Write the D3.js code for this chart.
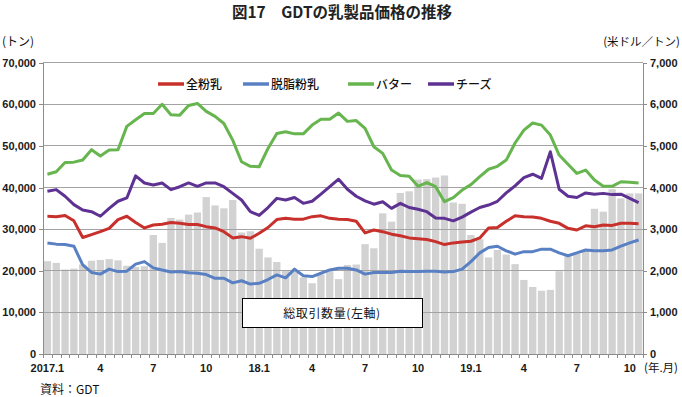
<!DOCTYPE html>
<html><head><meta charset="utf-8">
<script src="https://cdn.jsdelivr.net/npm/d3@7"></script>
<style>body{margin:0;background:#fff}svg{display:block}</style></head>
<body><svg id="c" width="682" height="397"></svg>
<script>
// GDT auctions, two per month, 2017.1 – 2019.10
const years = [2017, 2018, 2019];
const auctions = [];
years.forEach(y => { for (let m = 1; m <= 12; m++) { if (y === 2019 && m > 10) break; auctions.push(y + "." + m + "-1", y + "." + m + "-2"); } });

const tickIndex  = [0, 6, 12, 18, 24, 30, 36, 42, 48, 54, 60, 66];
const tickLabels = ["2017.1", "4", "7", "10", "18.1", "4", "7", "10", "19.1", "4", "7", "10"];

// 総取引数量 (トン, left axis)
const volume = [22300,21900,20300,20500,21500,22400,22600,22800,22500,21200,
                20900,21100,28600,26700,32700,32300,33500,34000,37700,35700,
                35000,37000,29200,29500,25300,23200,22100,20200,20200,18400,
                17000,19100,19900,18000,21400,21500,26400,25400,33800,31800,
                38700,39100,41900,42000,42400,42900,36400,36100,28600,27600,
                23200,25000,23900,21600,17800,16100,15200,15400,19900,23500,
                24100,24800,34900,34200,39600,37400,38600,38600];

// 価格 (米ドル／トン, right axis)
const wmp = [3310,3300,3330,3200,2800,2870,2940,3020,3230,3310,
             3160,3030,3100,3120,3160,3140,3110,3110,3060,3030,
             2940,2790,2820,2780,2900,3040,3230,3260,3240,3240,
             3300,3320,3260,3240,3230,3190,2910,2980,2940,2880,
             2840,2790,2770,2750,2700,2630,2670,2690,2710,2790,
             3030,3040,3190,3320,3300,3290,3260,3190,3140,3020,
             2980,3080,3060,3100,3090,3140,3140,3130];
const smp = [2670,2640,2630,2590,2140,1960,1920,2040,1980,1990,
             2160,2220,2070,2020,1970,1980,1950,1940,1910,1820,
             1820,1710,1760,1680,1700,1790,1900,1830,2040,1880,
             1860,1940,2020,2060,2060,2020,1920,1960,1960,1960,
             1990,1980,1980,1990,1990,1970,1980,2040,2220,2430,
             2560,2590,2480,2400,2460,2460,2520,2520,2430,2360,
             2430,2500,2480,2480,2500,2590,2670,2740];
const butter = [4320,4380,4600,4610,4660,4910,4760,4900,4910,5470,
                5630,5780,5780,6000,5750,5740,5970,6020,5830,5710,
                5540,5140,4620,4510,4500,4940,5300,5340,5290,5290,
                5500,5640,5640,5790,5590,5610,5420,4980,4820,4420,
                4290,4270,4030,4120,4020,3660,3760,3940,4070,4260,
                4440,4510,4660,5070,5380,5550,5500,5260,4780,4560,
                4340,4420,4180,4030,4030,4140,4130,4110];
const cheese = [3910,3950,3790,3590,3460,3420,3310,3500,3670,3750,
                4280,4110,4060,4110,3950,4020,4110,4030,4110,4110,
                4020,3860,3700,3420,3330,3520,3740,3700,3760,3620,
                3670,3840,4020,4200,3960,3790,3680,3600,3660,3500,
                3620,3520,3480,3420,3270,3260,3200,3290,3410,3520,
                3580,3670,3870,4040,4240,4320,4220,4860,3960,3790,
                3760,3870,3840,3860,3830,3840,3740,3640];

const seriesNames  = ["全粉乳", "脱脂粉乳", "バター", "チーズ"];
const seriesValues = [wmp, smp, butter, cheese];
const seriesColors = ["#c8302c", "#5a80c4", "#66b54e", "#5e3293"];

const leftTicks  = [0,10000,20000,30000,40000,50000,60000,70000];
const rightTicks = [0,1000,2000,3000,4000,5000,6000,7000];

const svg = d3.select("#c");
const L = 43, R = 643, T = 62.7, B = 354;
const numFont = "'Liberation Sans', Arial, sans-serif";
const jpFont = "'Noto Sans CJK JP', sans-serif";

const x = d3.scaleBand().domain(d3.range(auctions.length)).range([L, R]).paddingInner(0.17).paddingOuter(0.085);
const xb = d3.scaleLinear().domain([0, auctions.length]).range([L, R]);
const yL = d3.scaleLinear().domain([0, 70000]).range([B, T]);
const yR = d3.scaleLinear().domain([0, 7000]).range([B, T]);

// bars
svg.append("g").selectAll("rect").data(volume).join("rect")
  .attr("x", (d, i) => x(i)).attr("width", x.bandwidth())
  .attr("y", d => yL(d)).attr("height", d => B - yL(d))
  .attr("fill", "#d2d2d2");

// gridlines
svg.append("g").selectAll("line").data(leftTicks.slice(1)).join("line")
  .attr("x1", L).attr("x2", R).attr("y1", d => yL(d)).attr("y2", d => yL(d))
  .attr("stroke", "#a3a3a3").attr("stroke-width", 1).attr("shape-rendering", "crispEdges");

// axes
const gl = svg.append("g").attr("transform", `translate(${L},0)`)
  .call(d3.axisLeft(yL).tickValues(leftTicks).tickSize(4).tickPadding(3).tickFormat(d3.format(",")));
const gr = svg.append("g").attr("transform", `translate(${R},0)`)
  .call(d3.axisRight(yR).tickValues(rightTicks).tickSize(4).tickPadding(3).tickFormat(d3.format(",")));
const gb = svg.append("g").attr("transform", `translate(0,${B})`)
  .call(d3.axisBottom(xb).tickValues(d3.range(auctions.length + 1)).tickSize(4).tickFormat(""));
const gbl = svg.append("g").attr("transform", `translate(0,${B})`)
  .call(d3.axisBottom(x).tickValues(tickIndex).tickSize(0).tickPadding(10).tickFormat((d, k) => tickLabels[k]));
gbl.select(".domain").remove();
[gl, gr, gb].forEach(g => {
  g.select(".domain").attr("stroke", "#8c8c8c").attr("shape-rendering", "crispEdges");
  g.selectAll(".tick line").attr("stroke", "#8c8c8c").attr("shape-rendering", "crispEdges");
});
[gl, gr, gbl].forEach(g => g.selectAll("text").attr("font-family", numFont).attr("font-size", 11).attr("font-weight", "bold").attr("fill", "#1a1a1a"));

// lines
const line = d3.line().x((d, i) => x(i) + x.bandwidth() / 2).y(d => yR(d));
seriesValues.forEach((vals, k) => {
  svg.append("path").datum(vals).attr("d", line).attr("fill", "none")
    .attr("stroke", seriesColors[k]).attr("stroke-width", 3).attr("stroke-linejoin", "round");
});

// legend
const legX = [158, 243, 348, 428];
const leg = svg.append("g");
seriesNames.forEach((n, k) => {
  leg.append("line").attr("x1", legX[k]).attr("x2", legX[k] + 26).attr("y1", 84).attr("y2", 84)
    .attr("stroke", seriesColors[k]).attr("stroke-width", 3.5);
  leg.append("text").attr("x", legX[k] + 28).attr("y", 88.5).text(n)
    .attr("font-family", jpFont).attr("font-size", 12).attr("font-weight", 500).attr("fill", "#111");
});

// annotation box
svg.append("rect").attr("x", 242.5).attr("y", 298.5).attr("width", 180).attr("height", 29)
  .attr("fill", "#fff").attr("stroke", "#000").attr("stroke-width", 1);
svg.append("text").attr("x", 332).attr("y", 317.5).attr("text-anchor", "middle")
  .attr("font-family", jpFont).attr("font-size", 12).attr("letter-spacing", 0.6).attr("fill", "#111").text("総取引数量(左軸)");

// titles & notes
svg.append("text").attr("x", 342).attr("y", 18).attr("text-anchor", "middle")
  .attr("font-family", jpFont).attr("font-size", 15.5).attr("font-weight", "bold").attr("fill", "#222")
  .text("図17　GDTの乳製品価格の推移");
svg.append("text").attr("x", 2).attr("y", 46).attr("font-family", jpFont).attr("font-size", 12).attr("fill", "#111").text("(トン)");
svg.append("text").attr("x", 680).attr("y", 46).attr("text-anchor", "end").attr("font-family", jpFont).attr("font-size", 11.5).attr("fill", "#111").text("(米ドル／トン)");
svg.append("text").attr("x", 644).attr("y", 372).attr("font-family", jpFont).attr("font-size", 11.5).attr("fill", "#111").text("(年.月)");
svg.append("text").attr("x", 40).attr("y", 394).attr("font-family", jpFont).attr("font-size", 12).attr("fill", "#111").text("資料：GDT");
</script>
</body></html>
